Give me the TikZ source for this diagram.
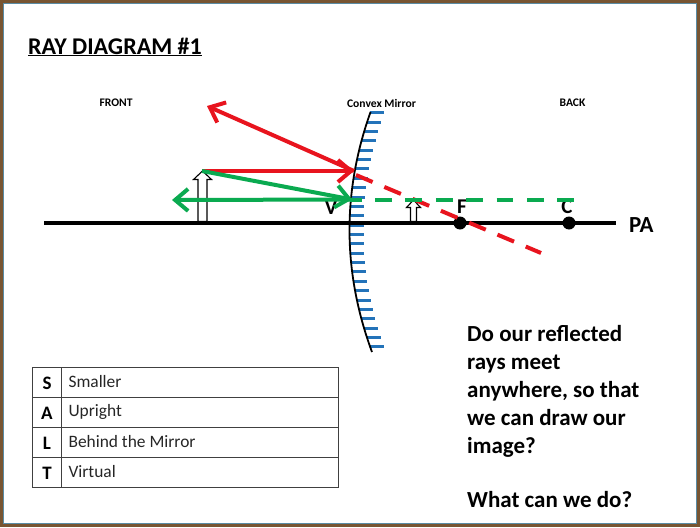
\documentclass[tikz,border=0pt]{standalone}
\usepackage{fontspec}
\setmainfont{Carlito}
\usetikzlibrary{arrows.meta}
\definecolor{rayred}{RGB}{232,20,30}
\definecolor{raygreen}{RGB}{10,170,80}
\definecolor{tickblue}{RGB}{35,115,185}
\definecolor{framebrown}{RGB}{120,85,50}
\definecolor{frameblue}{RGB}{90,140,165}
\tikzset{
    ray/.style={line width=4pt,-{Straight Barb[length=13pt,width=22pt,line width=4pt]}},
    reddash/.style={line width=4pt,rayred,dash pattern=on 18pt off 12.7pt},
    greendash/.style={line width=4pt,raygreen,dash pattern=on 16.7pt off 13.7pt},
    objarrow/.style={draw=black,fill=white,line width=1.1pt},
    point/.style={circle,fill=black,minimum size=13pt,inner sep=0pt},
    smalltext/.style={font=\fontsize{11.6}{14}\selectfont\bfseries},
    bigtext/.style={font=\fontsize{23}{27}\selectfont\bfseries},
    marktext/.style={font=\fontsize{21}{25}\selectfont\bfseries},
    cellhead/.style={font=\fontsize{19}{22}\selectfont\bfseries},
    celltext/.style={font=\fontsize{17.4}{20}\selectfont,anchor=west,text=black!85}
}
\begin{document}
\begin{tikzpicture}[x=1pt,y=-1pt]
    \useasboundingbox (0,0) rectangle (700,527);
    \fill[white] (0,0) rectangle (700,527);

    % frame
    \draw[frameblue,line width=1pt] (3.5,3.5) rectangle (696.5,523.5);
    \draw[framebrown,line width=3pt] (1.5,1.5) rectangle (698.5,525.5);

    \node[font=\fontsize{24}{28}\selectfont\bfseries,anchor=base] (title) at (115,54) {\underline{RAY DIAGRAM \#1}};
    \node[smalltext] (front) at (116,103) {FRONT};
    \node[smalltext] (mirrorlabel) at (381.5,103) {Convex Mirror};
    \node[smalltext] (back) at (572.5,103) {BACK};

    % mirror
    \foreach \y in {0,...,25} {
        \pgfmathsetmacro{\ypos}{112.7+9.37*\y}
        \pgfmathsetmacro{\xpos}{349.5+0.00151*(\ypos-230)*(\ypos-230)}
        \draw[tickblue,line width=3pt] (\xpos,\ypos) -- ++(14,0);
    }
    \draw[black,line width=1.8pt,domain=112:352,samples=40,smooth]
        plot ({349.5+0.00151*(\x-230)*(\x-230)},\x);

    % principal axis
    \coordinate (axisl) at (44,223);
    \coordinate (axisr) at (616,223);
    \draw[line width=3.8pt] (axisl) -- (axisr);
    \node[point] (f) at (460,223) {};
    \node[point] (c) at (569,223) {};
    \node[marktext] (v) at (331,208) {V};
    \node[marktext] (flabel) at (462,207) {F};
    \node[marktext] (clabel) at (567,207) {C};
    \node[bigtext,anchor=west] (pa) at (625.5,225) {PA};

    % object and image
    \draw[objarrow] (198,221.5) -- (198,179.5) -- (193.5,179.5) -- (202.5,171) -- (211.5,179.5) -- (207,179.5) -- (207,221.5) -- cycle;
    \draw[objarrow] (410.5,221.5) -- (410.5,207.5) -- (406.5,207.5) -- (413.5,200) -- (420.5,207.5) -- (416.5,207.5) -- (416.5,221.5) -- cycle;

    % rays
    \coordinate (tip) at (202,171);
    \coordinate (hitred) at (354,171);
    \coordinate (outred) at (207,106);
    \coordinate (dashred) at (356,175);
    \coordinate (endred) at (541,253);
    \coordinate (hitgreen) at (352,199.5);
    \coordinate (outgreen) at (172,200);
    \coordinate (dashgreen) at (375,200);
    \coordinate (endgreen) at (574,200);

    \draw[ray,rayred] (tip) -- (hitred);
    \draw[ray,rayred] (hitred) -- (outred);
    \draw[reddash] (dashred) -- (endred);
    \draw[ray,raygreen] (tip) -- (hitgreen);
    \draw[ray,raygreen] (hitgreen) -- (outgreen);
    \draw[raygreen,line width=4pt] (350,200) -- (362,200);
    \draw[greendash] (dashgreen) -- (endgreen);

    % question
    \node[bigtext,anchor=base west] (q1) at (463.7,341) {Do our reflected};
    \node[bigtext,anchor=base west] (q2) at (463.7,369) {rays meet};
    \node[bigtext,anchor=base west] (q3) at (463.7,397) {anywhere, so that};
    \node[bigtext,anchor=base west] (q4) at (463.7,425) {we can draw our};
    \node[bigtext,anchor=base west] (q5) at (463.7,453) {image?};
    \node[bigtext,anchor=base west] (q6) at (463.7,507) {What can we do?};

    % table
    \draw[black!75,line width=0.9pt] (32,367) rectangle (338,487);
    \draw[black!75,line width=0.9pt] (61.5,367) -- (61.5,487);
    \foreach \y in {397,427,457}
        \draw[black!75,line width=0.9pt] (32,\y) -- (338,\y);

    \node[cellhead] (s) at (47,383) {S};
    \node[cellhead] (a) at (47,413) {A};
    \node[cellhead] (l) at (47,443) {L};
    \node[cellhead] (t) at (47,473) {T};
    \node[celltext] (smaller) at (65,382) {Smaller};
    \node[celltext] (upright) at (65,412) {Upright};
    \node[celltext] (behind) at (65,442) {Behind the Mirror};
    \node[celltext] (virtual) at (65,472) {Virtual};
\end{tikzpicture}
\end{document}
